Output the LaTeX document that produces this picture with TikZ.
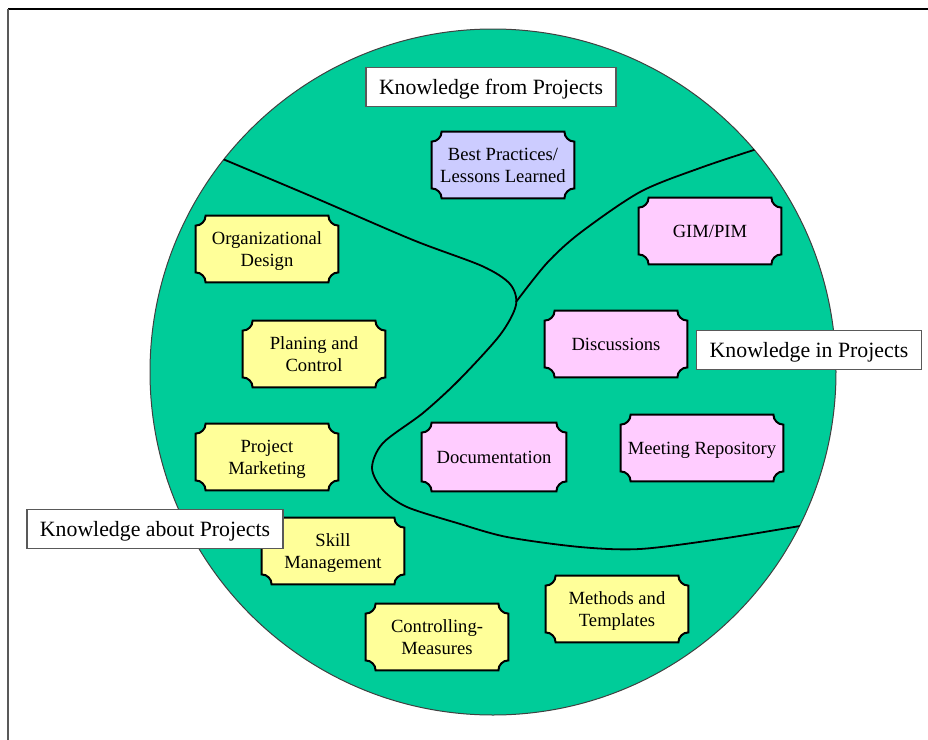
\documentclass[tikz,border=0pt]{standalone}
\usepackage{fontspec}
\setmainfont{Liberation Serif}
\usetikzlibrary{backgrounds}
\definecolor{discgreen}{RGB}{0,204,153}
\definecolor{boxyellow}{RGB}{255,255,153}
\definecolor{boxpink}{RGB}{255,204,255}
\definecolor{boxblue}{RGB}{204,204,255}
\tikzset{plaque/.style = {align=center, minimum width=71pt, minimum height=33pt, text depth=0pt,
                          inner sep=0pt, font=\fontsize{9.3}{11}\selectfont}}
\tikzset{tag/.style = {draw=black!65, fill=white, line width=0.6pt, minimum height=19.5pt,
                       text depth=0.5pt, inner xsep=6.5pt, font=\fontsize{10.9}{13}\selectfont}}
\tikzset{split/.style = {line width=0.9pt, smooth, tension=0.5}}
\newcommand\notch{5pt}
% rectangle with concave corners round a plaque node
\newcommand\plaqueborder[2]{%
  \draw[line width=1pt, fill=#2]
    ([xshift=\notch]#1.north west) -- ([xshift=-\notch]#1.north east)
    arc[start angle=180, end angle=270, radius=\notch]
    -- ([yshift=\notch]#1.south east)
    arc[start angle=90, end angle=180, radius=\notch]
    -- ([xshift=\notch]#1.south west)
    arc[start angle=0, end angle=90, radius=\notch]
    -- ([yshift=-\notch]#1.north west)
    arc[start angle=270, end angle=360, radius=\notch]
    -- cycle;}

\begin{document}
\begin{tikzpicture}[x=0.5pt, y=-0.5pt]
      \useasboundingbox (0, 0) rectangle (928, 740);
      \draw [line width=0.6pt] (8, 9) -- (928, 9);
      \draw [black!65, line width=1pt] (8, 9) -- (8, 740);

      \coordinate (mid) at (493, 372);

      \node [plaque] (best) at (503, 165) {Best Practices/\\Lessons Learned};
      \node [plaque] (org) at (267, 249) {Organizational\\Design};
      \node [plaque] (plan) at (314, 354) {Planing and\\Control};
      \node [plaque] (mkt) at (267, 457) {Project\\Marketing};
      \node [plaque] (skill) at (333, 551) {Skill\\Management};
      \node [plaque] (ctrl) at (437, 637) {Controlling-\\Measures};
      \node [plaque] (meth) at (617, 609) {Methods and\\Templates};
      \node [plaque] (gim) at (710, 231) {GIM/PIM};
      \node [plaque] (disc) at (616, 344) {Discussions};
      \node [plaque, minimum width=72pt, minimum height=34pt] (doc) at (494, 457) {Documentation};
      \node [plaque, minimum width=81pt] (meet) at (702, 448) {Meeting Repository};

      \begin{pgfonlayer}{background}
        \draw [fill=discgreen, draw=black!75, line width=0.5pt] (mid) circle [radius=171.5pt];
        \plaqueborder{best}{boxblue}
        \foreach \n in {org, plan, mkt, skill, ctrl, meth}
          {\plaqueborder{\n}{boxyellow}}
        \foreach \n in {gim, disc, doc, meet}
          {\plaqueborder{\n}{boxpink}}
      \end{pgfonlayer}

      \begin{scope}
        \clip (mid) circle [radius=171.5pt];
        \draw [split] plot coordinates {(218, 157) (313, 197) (413, 240) (482, 266) (510, 284)
          (516, 305) (500, 335) (459, 380) (423, 413) (383, 443) (372, 468) (383, 490)
          (407, 507) (457, 523) (507, 537) (580, 547) (640, 549) (720, 539) (806, 525)};
        \draw [split] plot coordinates {(760, 148) (700, 168) (640, 192) (580, 233) (547, 263)
          (516, 302)};
      \end{scope}

      \node [tag] (from) at (491, 87) {Knowledge from Projects};
      \node [tag] (in) at (809, 350) {Knowledge in Projects};
      \node [tag] (about) at (155, 529) {Knowledge about Projects};
    \end{tikzpicture}
\end{document}
